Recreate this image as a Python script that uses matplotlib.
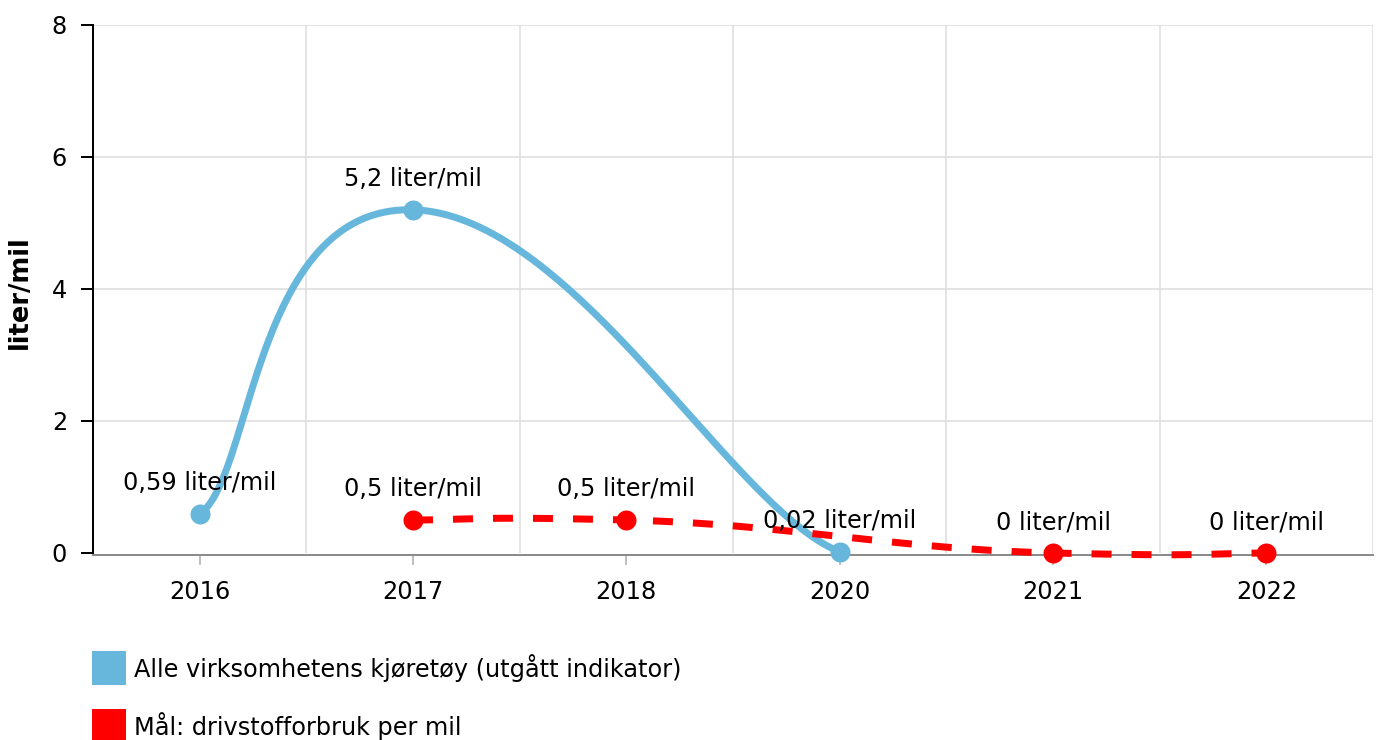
import numpy as np
import matplotlib
matplotlib.use('Agg')
import matplotlib.pyplot as plt
from matplotlib.patches import Rectangle

# ---- data ----
categories = ['2016', '2017', '2018', '2020', '2021', '2022']
blue_values = [0.59, 5.2, None, 0.02, None, None]
red_values = [None, 0.5, 0.5, None, 0, 0]
series_names = ['Alle virksomhetens kjøretøy (utgått indikator)',
                'Mål: drivstofforbruk per mil']
y_ticks = [0, 2, 4, 6, 8]
unit = 'liter/mil'

BLUE = '#67b7dc'
RED = '#ff0000'
W, H = 1377, 740
PT = 0.72  # points per pixel at dpi 100
FS = 17.3

plt.rcParams['font.family'] = ['DejaVu Sans']


def fmt(v):
    return f"{v:g}".replace('.', ',') + ' ' + unit


def smooth(xs, ys, tx, ty, n=80):
    """Tension (cardinal-like) cubic Bezier smoothing between points."""
    pts = list(zip(xs, ys))
    outx, outy = [], []
    m = len(pts)
    for i in range(m - 1):
        p0 = pts[i - 1] if i > 0 else pts[i]
        p1 = pts[i]
        p2 = pts[i + 1]
        p3 = pts[i + 2] if i + 2 < m else pts[i + 1]
        ax_ = p1[0] + tx * (p2[0] - p0[0]); ay_ = p1[1] + ty * (p2[1] - p0[1])
        bx_ = p2[0] - tx * (p3[0] - p1[0]); by_ = p2[1] - ty * (p3[1] - p1[1])
        t = np.linspace(0, 1, n)
        c0 = (1 - t) ** 3; c1 = 3 * (1 - t) ** 2 * t; c2 = 3 * (1 - t) * t ** 2; c3 = t ** 3
        outx.extend(c0 * p1[0] + c1 * ax_ + c2 * bx_ + c3 * p2[0])
        outy.extend(c0 * p1[1] + c1 * ay_ + c2 * by_ + c3 * p2[1])
    return np.array(outx), np.array(outy)


def valid(vals):
    xs = [i for i, v in enumerate(vals) if v is not None]
    ys = [v for v in vals if v is not None]
    return xs, ys


fig = plt.figure(figsize=(W / 100, H / 100), dpi=100)
ax = fig.add_axes([93 / W, (H - 553) / H, 1280 / W, 528 / H])

# series
bx, by = valid(blue_values)
rx, ry = valid(red_values)
sbx, sby = smooth(bx, by, 0.25, 0.12)
srx, sry = smooth(rx, ry, 0.25, 0.12)

ax.plot(sbx, sby, color=BLUE, lw=7 * PT, solid_capstyle='round', zorder=3, clip_on=False)
ax.plot(bx, by, 'o', color=BLUE, ms=20 * PT, mec='none', zorder=4, clip_on=False)
ax.plot(srx, sry, color=RED, lw=7 * PT, dashes=(20 / 7, 20 / 7),
        dash_capstyle='butt', zorder=5, clip_on=False)
ax.plot(rx, ry, 'o', color=RED, ms=20 * PT, mec='none', zorder=6, clip_on=False)

for xs, ys in ((bx, by), (rx, ry)):
    for x, y in zip(xs, ys):
        ax.annotate(fmt(y), (x, y), xytext=(0, 31 * PT), textcoords='offset points',
                    ha='center', va='center', fontsize=FS, color='black', zorder=7)

# axes
ax.set_xlim(-0.5, len(categories) - 0.5)
ax.set_ylim(0, 8)
ax.set_xticks(range(len(categories)))
ax.set_xticklabels(categories)
ax.set_xticks(np.arange(0.5, len(categories), 1.0), minor=True)
ax.set_yticks(y_ticks)
ax.set_yticklabels([str(v) for v in y_ticks])

ax.grid(False)
ax.xaxis.grid(True, which='minor', color='#dcdcdc', lw=1.5 * PT)
ax.yaxis.grid(True, which='major', color='#dcdcdc', lw=1.5 * PT)
ax.set_axisbelow(True)
ax.yaxis.get_gridlines()[0].set_visible(False)

for s in ('top', 'right'):
    ax.spines[s].set_visible(False)
ax.spines['left'].set_color('black')
ax.spines['left'].set_linewidth(2 * PT)
ax.spines['left'].set_bounds(-0.03, 8)
ax.spines['bottom'].set_color('#8c8c8c')
ax.spines['bottom'].set_linewidth(2 * PT)
ax.spines['bottom'].set_position(('outward', 2 * PT))

ax.tick_params(axis='y', which='major', length=12 * PT, width=2 * PT, color='black',
               pad=10, labelsize=FS)
ax.tick_params(axis='x', which='major', length=10 * PT, width=1.5 * PT, color='#aaaaaa',
               pad=11, labelsize=FS)
ax.tick_params(axis='x', which='minor', length=0)

fig.text(20 / W, 1 - 292 / H, unit, rotation=90, fontweight='bold',
         va='center', ha='center', fontsize=18.5)

# legend
for i, (name, col) in enumerate(zip(series_names, [BLUE, RED])):
    top = 651 + i * 58
    fig.add_artist(Rectangle((92 / W, 1 - (top + 34) / H), 34 / W, 34 / H,
                             transform=fig.transFigure, color=col, lw=0))
    fig.text(134 / W, 1 - (top + 17) / H, name, va='center', ha='left', fontsize=FS)

fig.savefig('out.png', dpi=100)
